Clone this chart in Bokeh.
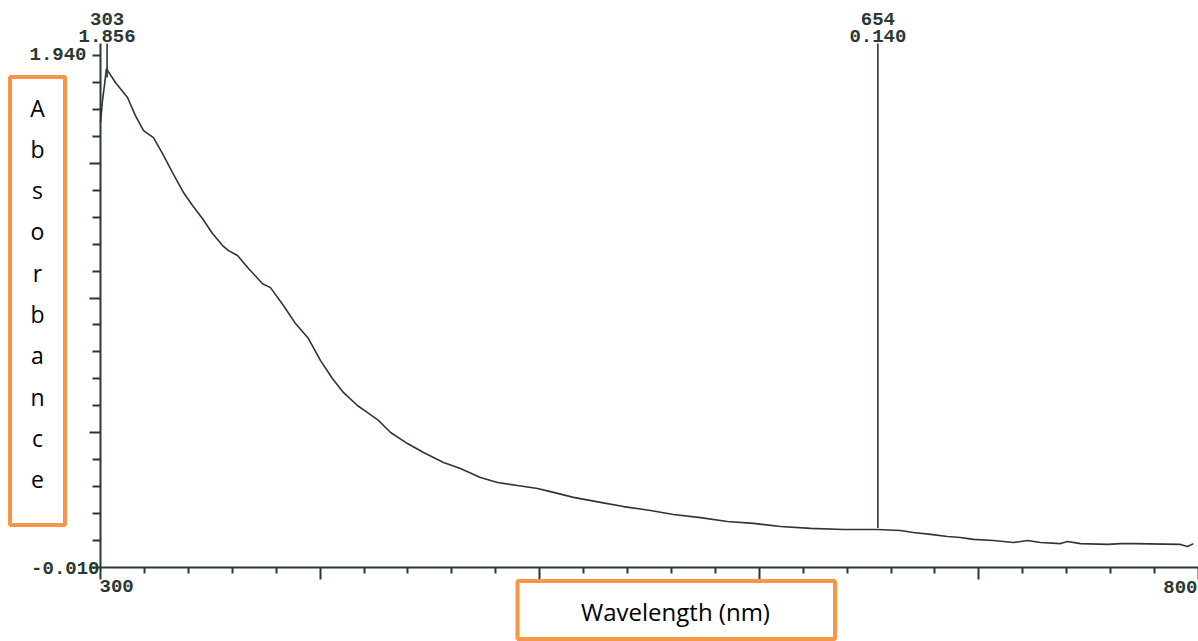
from bokeh.plotting import figure
from bokeh.models import Range1d, FixedTicker, Label, BoxAnnotation, ColumnDataSource
from bokeh.core.properties import value
from bokeh.embed import file_html
from bokeh.resources import INLINE

# ---------------- data ----------------
wavelength_nm = [300.0, 300.5, 300.9, 301.8, 302.7, 306.8, 312.3, 315.9, 319.6, 324.1,
                 328.2, 332.8, 337.8, 341.9, 346.4, 351.0, 355.6, 358.3, 362.4, 367.4,
                 373.8, 377.4, 383.3, 388.8, 394.7, 400.2, 405.6, 410.7, 417.0, 421.6,
                 426.6, 432.1, 439.8, 447.1, 456.2, 463.9, 473.0, 480.8, 489.9, 499.0,
                 504.9, 515.4, 527.7, 538.2, 550.5, 560.9, 573.2, 585.5, 597.4, 609.7,
                 623.3, 638.3, 653.8, 664.3, 670.2, 678.0, 685.7, 691.6, 697.5, 706.6,
                 715.8, 722.1, 728.1, 737.2, 740.3, 746.3, 758.6, 764.5, 770.4, 791.8,
                 795.0, 797.7]
absorbance = [1.685, 1.730, 1.768, 1.826, 1.890, 1.837, 1.780, 1.711, 1.654, 1.627,
              1.567, 1.494, 1.418, 1.369, 1.319, 1.262, 1.216, 1.197, 1.178, 1.129,
              1.071, 1.056, 0.988, 0.919, 0.862, 0.778, 0.710, 0.656, 0.607, 0.580,
              0.550, 0.504, 0.462, 0.428, 0.390, 0.367, 0.333, 0.314, 0.302, 0.291,
              0.279, 0.257, 0.238, 0.222, 0.207, 0.192, 0.180, 0.165, 0.158, 0.146,
              0.139, 0.135, 0.135, 0.131, 0.123, 0.116, 0.108, 0.104, 0.097, 0.093,
              0.085, 0.093, 0.085, 0.081, 0.089, 0.081, 0.078, 0.081, 0.081, 0.078,
              0.070, 0.081]

peak_nm = [303, 654]
peak_abs = [1.856, 0.140]
peak_nm_labels = ["303", "654"]
peak_abs_labels = ["1.856", "0.140"]

y_tick_labels = ["-0.010", "1.940"]
x_tick_labels = ["300", "800"]
y_title_letters = list("Absorbance")
x_title = "Wavelength (nm)"

# ---------------- layout helpers ----------------
W, H = 1198, 641
AX_X, AX_Y = 100, 567          # pixel position of the axes corner
X0, X1 = 300, 800
Y0, Y1 = -0.010, 1.940
PX_X = (W - AX_X) / (X1 - X0)      # pixels per nm
PX_Y = (AX_Y - 55) / (Y1 - Y0)     # pixels per absorbance unit


def sx(px):
    return X0 + (px - AX_X) / PX_X


def sy(py):
    return Y0 + (AX_Y - py) / PX_Y


INK = "#2a3833"
ORANGE = "#F79646"
MONO = "Liberation Mono"
MONO_SIZE = "19px"

p = figure(width=W, height=H, x_range=Range1d(sx(0), sx(W)), y_range=Range1d(sy(H), sy(0)),
           output_backend="svg", toolbar_location=None, title=None, min_border=0,
           background_fill_color="white", border_fill_color="white")
p.outline_line_color = None
p.xgrid.visible = False
p.ygrid.visible = False

# ---- x axis (fixed at the absorbance origin) ----
xt_major = list(range(X0, X1 + 1, 100))
xt_minor = [v for v in range(X0, X1 + 1, 20) if v not in xt_major]
xa = p.xaxis[0]
xa.fixed_location = Y0
xa.bounds = (X0, X1)
xa.ticker = FixedTicker(ticks=xt_major, minor_ticks=xt_minor)
xa.major_label_overrides = {v: "" for v in xt_major}
xa.axis_line_color = INK
xa.axis_line_width = 2
xa.major_tick_line_color = INK
xa.minor_tick_line_color = INK
xa.major_tick_line_width = 2
xa.minor_tick_line_width = 2
xa.major_tick_in = 0
xa.major_tick_out = 12
xa.minor_tick_in = 0
xa.minor_tick_out = 6

# ---- y axis (fixed at 300 nm) ----
n_div = 19
y_all = [Y0 + i * (Y1 - Y0) / n_div for i in range(n_div + 1)]
yt_major = [y_all[i] for i in range(0, n_div + 1, 5)]
yt_minor = [v for i, v in enumerate(y_all) if i % 5 != 0]
ya = p.yaxis[0]
ya.fixed_location = X0
ya.ticker = FixedTicker(ticks=yt_major, minor_ticks=yt_minor)
ya.major_label_overrides = {v: "" for v in yt_major}
ya.bounds = (Y0, sy(43))
ya.axis_line_color = INK
ya.axis_line_width = 2
ya.major_tick_line_color = INK
ya.minor_tick_line_color = INK
ya.major_tick_line_width = 2
ya.minor_tick_line_width = 2
ya.major_tick_in = 0
ya.major_tick_out = 11
ya.minor_tick_in = 0
ya.minor_tick_out = 8

# ---- spectrum ----
p.line(wavelength_nm, absorbance, line_color=INK, line_width=1.6)

# ---- peak markers ----
top = sy(43)
p.segment(x0=peak_nm, y0=peak_abs, x1=peak_nm, y1=[top] * len(peak_nm),
          line_color=INK, line_width=1.6)
src_pk = ColumnDataSource(dict(x=peak_nm, y1=[sy(18)] * len(peak_nm),
                               y2=[sy(35)] * len(peak_nm),
                               t1=peak_nm_labels, t2=peak_abs_labels))
for ycol, tcol in (("y1", "t1"), ("y2", "t2")):
    p.text(x="x", y=ycol, text=tcol, source=src_pk,
           text_align="center", text_baseline="middle",
           text_font=value(MONO), text_font_style="bold",
           text_font_size=MONO_SIZE, text_color=INK)

# ---- tick labels ----
tick_src = ColumnDataSource(dict(
    x=[sx(86), sx(99), sx(99), sx(1197)],
    y=[sy(53), sy(567), sy(585), sy(586)],
    t=[y_tick_labels[1], y_tick_labels[0], x_tick_labels[0], x_tick_labels[1]],
    a=["right", "right", "left", "right"]))
p.text(x="x", y="y", text="t", text_align="a", source=tick_src, text_baseline="middle",
       text_font=value(MONO), text_font_style="bold", text_font_size=MONO_SIZE,
       text_color=INK)

# ---- orange title boxes ----
p.add_layout(BoxAnnotation(left=sx(9.5), right=sx(64.5), top=sy(76.5), bottom=sy(524.5),
                           fill_color="white", fill_alpha=1.0, line_color=ORANGE,
                           line_width=4, line_alpha=1.0))
p.add_layout(BoxAnnotation(left=sx(517), right=sx(834.5), top=sy(580.5), bottom=sy(638.5),
                           fill_color="white", fill_alpha=1.0, line_color=ORANGE,
                           line_width=4, line_alpha=1.0))

src_abs = ColumnDataSource(dict(x=[sx(37)] * len(y_title_letters),
                                y=[sy(107 + 41.3 * i) for i in range(len(y_title_letters))],
                                t=y_title_letters))
p.text(x="x", y="y", text="t", source=src_abs, text_align="center",
       text_baseline="middle", text_font=value("Open Sans"),
       text_font_size="23px", text_color="black", level="overlay")
p.add_layout(Label(x=sx(675), y=sy(611), text=x_title, text_align="center",
                   text_baseline="middle", text_font="Open Sans",
                   text_font_size="24px", text_color="black"))

open("out.html", "w").write(file_html(p, INLINE))
